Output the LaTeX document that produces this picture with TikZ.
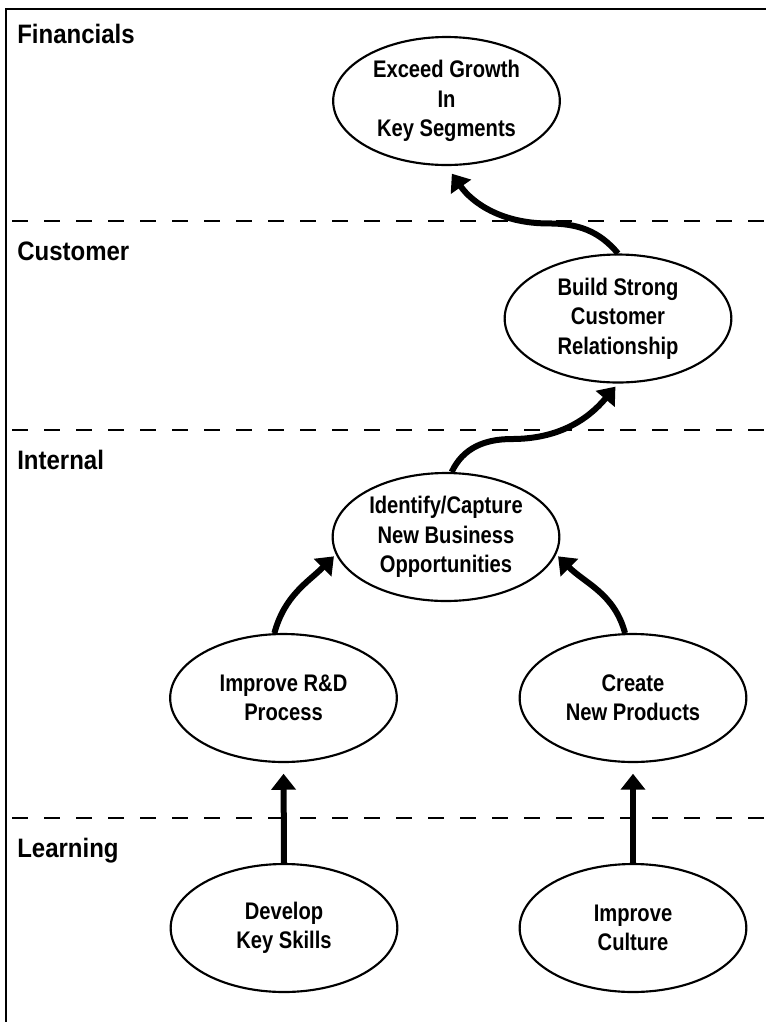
\documentclass[tikz,border=0pt]{standalone}
\usepackage{fontspec}
\setmainfont{Liberation Sans}
\newfontfamily\goalfont{Liberation Sans}[FakeStretch=0.84]
\newfontfamily\layerfont{Liberation Sans}[FakeStretch=0.9]
\usetikzlibrary{shapes.geometric,arrows.meta}
\tikzset{
  goal/.style={ellipse,draw,line width=1.6pt,minimum width=170pt,minimum height=96pt,
    inner sep=0pt,align=center,font=\goalfont\bfseries\fontsize{18}{22}\selectfont},
  layer/.style={anchor=base west,inner sep=0pt,font=\layerfont\bfseries\fontsize{20}{24}\selectfont},
  link/.style={line width=4.5pt,-{Triangle[length=12pt,width=18pt]}},
  divider/.style={line width=1.5pt,dash pattern=on 12pt off 12pt}
}
\begin{document}
\begin{tikzpicture}[x=0.75pt,y=0.75pt]
        \useasboundingbox (0,0) rectangle (766,-1022);
        \draw[line width=1.5pt] (5.7,-1022) -- (5.7,-9) -- (766,-9);
        \foreach \y in {221,430,818}
            \draw[divider] (12,-\y) -- (766,-\y);
        \node[layer] (fin) at (17,-43) {Financials};
        \node[layer] (cust) at (17,-260) {Customer};
        \node[layer] (int) at (17,-469) {Internal};
        \node[layer] (learn) at (17,-857) {Learning};
        \node[goal] (growth) at (446.5,-101) {Exceed Growth\\In\\Key Segments};
        \node[goal] (relation) at (618,-318.5) {Build Strong\\Customer\\Relationship};
        \node[goal] (oppty) at (446,-537) {Identify/Capture\\New Business\\Opportunities};
        \node[goal] (rnd) at (283.5,-698) {Improve R\&D\\Process};
        \node[goal] (products) at (633,-698) {Create\\New Products};
        \node[goal] (skills) at (284,-928) {Develop\\Key Skills};
        \node[goal] (culture) at (633,-928) {Improve\\Culture};
        \draw[link,shorten >=8pt] (skills.north) -- (rnd.south);
        \draw[link,shorten >=8pt] (culture.north) -- (products.south);
        \draw[link,shorten >=2pt] (rnd.98) to[out=75,in=225] (oppty.189);
        \draw[link,shorten >=2pt] (products.97) to[out=105,in=-45] (oppty.351);
        \draw[link,shorten >=3pt] (oppty.85) to[out=65,in=180] ++(60,33) to[out=0,in=230] (relation.south);
        \draw[link,shorten >=7pt] (relation.north) to[out=130,in=0] ++(-70,30) to[out=180,in=-55] (growth.south);
\end{tikzpicture}
\end{document}
